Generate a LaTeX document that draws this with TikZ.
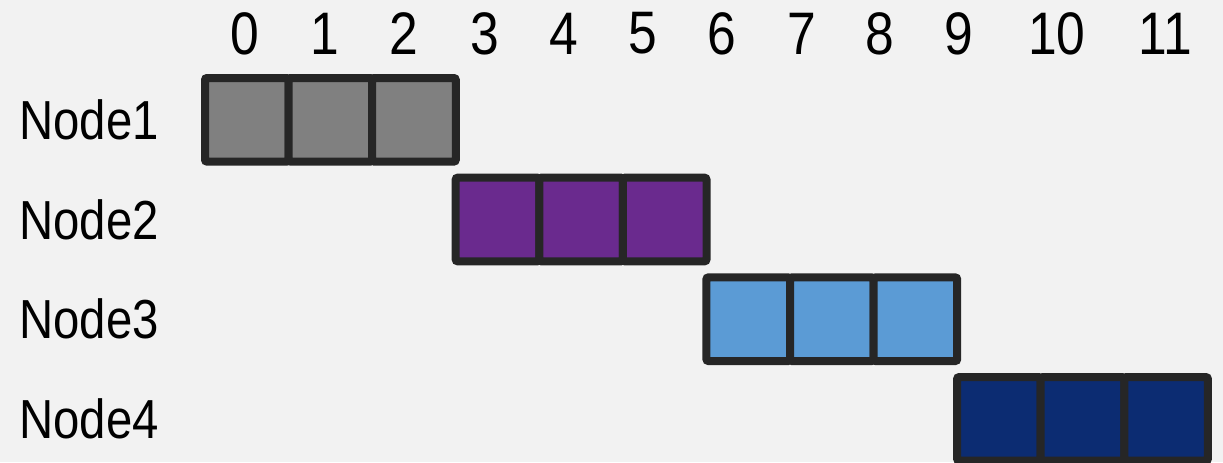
\documentclass[tikz,border=0pt]{standalone}
\usepackage{fontspec}
\setmainfont{Liberation Sans}[FakeStretch=0.86]
\usepackage{xcolor}
\usepackage{tikz}
\usetikzlibrary{positioning}
\definecolor{tbg}{HTML}{F2F2F2}
\definecolor{tedge}{HTML}{262626}
\definecolor{tgray}{HTML}{808080}
\definecolor{tpurple}{HTML}{6A2A8E}
\definecolor{tlblue}{HTML}{5B9BD5}
\definecolor{tnavy}{HTML}{0C2C72}

\begin{document}
\begin{tikzpicture}[x=0.5pt, y=-0.5pt,
  cell/.style={draw=tedge, line width=4pt, rounded corners=1pt, minimum size=41.8pt, inner sep=0pt, outer sep=0pt},
  rowlab/.style={anchor=west, inner sep=0pt, font=\fontsize{27.5pt}{30pt}\selectfont},
  collab/.style={inner sep=0pt, font=\fontsize{30pt}{32pt}\selectfont}]
\fill[tbg] (0,0) rectangle (1223,462);
\useasboundingbox (0,0) rectangle (1223,462);
% time slots
\foreach \t/\x in {0/245,1/325,2/404,3/485,4/564,5/643,6/722,7/802,8/880,9/959,10/1057,11/1165}
  \node[collab] (t\t) at (\x,33.5) {\t};
% one row per node, three slots each
\foreach \r/\col in {1/tgray,2/tpurple,3/tlblue,4/tnavy} {
  \node[rowlab] (lab\r) at (19,{119.8+99.7*(\r-1)}) {Node\r};
  \foreach \k in {0,1,2}
    \node[cell, fill=\col] (c\r\k) at ({246.8+250.7*(\r-1)+83.6*\k},{119.8+99.7*(\r-1)}) {};
}
\end{tikzpicture}
\end{document}
